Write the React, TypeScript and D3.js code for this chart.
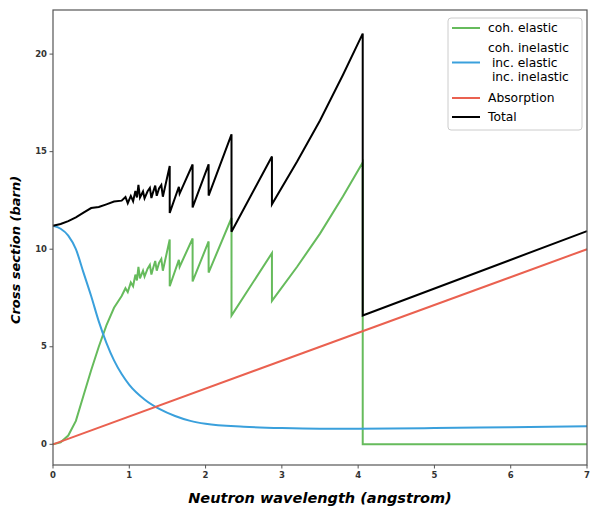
import React from 'react'
import * as d3 from 'd3'

const width = 593
const height = 510

// wavelength grid (angstrom) shared by coh. elastic and total
const wavelengths = [0, 0.1, 0.2, 0.3, 0.4, 0.5, 0.6, 0.7, 0.8, 0.9, 0.95, 0.98, 1.02, 1.05, 1.08, 1.1, 1.12, 1.14, 1.18, 1.2, 1.24, 1.27, 1.29, 1.31, 1.34, 1.36, 1.39, 1.42, 1.44, 1.53, 1.53, 1.65, 1.66, 1.83, 1.83, 2.04, 2.04, 2.34, 2.34, 2.87, 2.87, 3.2, 3.5, 3.8, 4.06, 4.06, 7]
const cohElastic = [0, 0.1, 0.45, 1.2, 2.5, 3.8, 5.0, 6.1, 7.0, 7.6, 8.0, 7.8, 8.3, 8.1, 8.7, 8.4, 9.1, 8.5, 8.9, 8.6, 9.0, 9.2, 8.7, 9.0, 9.4, 8.9, 9.3, 9.5, 8.9, 10.5, 8.1, 9.45, 9.1, 10.55, 8.35, 10.4, 8.8, 11.6, 6.6, 9.8, 7.35, 9.1, 10.8, 12.7, 14.45, 0, 0]
const total = [11.2, 11.29, 11.44, 11.63, 11.87, 12.11, 12.16, 12.3, 12.44, 12.49, 12.68, 12.36, 12.73, 12.46, 12.99, 12.65, 13.3, 12.65, 12.96, 12.61, 12.97, 13.14, 12.62, 12.9, 13.26, 12.74, 13.11, 13.29, 12.69, 14.26, 11.86, 13.2, 12.85, 14.34, 12.14, 14.35, 12.75, 15.89, 10.89, 14.75, 12.3, 14.49, 16.6, 18.93, 21.05, 6.6, 10.93]

// coh. inelastic + inc. elastic + inc. inelastic
const incWavelengths = [0, 0.1, 0.2, 0.3, 0.4, 0.5, 0.6, 0.7, 0.8, 0.9, 1.0, 1.2, 1.4, 1.6, 1.8, 2.0, 2.5, 3.0, 3.5, 4.0, 5.0, 6.0, 7.0]
const incoherent = [11.2, 11.05, 10.7, 10.0, 8.8, 7.6, 6.3, 5.2, 4.3, 3.6, 3.05, 2.3, 1.8, 1.45, 1.2, 1.05, 0.9, 0.83, 0.8, 0.8, 0.83, 0.88, 0.93]

const absWavelengths = [0, 7]
const absorption = [0, 10]

const xTicks = [0, 1, 2, 3, 4, 5, 6, 7]
const yTicks = [0, 5, 10, 15, 20]

const legendItems = [
  { lines: ['coh. elastic'], color: '#66bb5c' },
  { lines: ['coh. inelastic', ' inc. elastic', ' inc. inelastic'], color: '#3aa0dc' },
  { lines: ['Absorption'], color: '#ea6150' },
  { lines: ['Total'], color: '#000000' },
]

const left = 53
const right = 587
const top = 10
const bottom = 465

const x = d3.scaleLinear().domain([0, 7]).range([left, right])
const y = d3.scaleLinear().domain([-1.06, 22.26]).range([bottom, top])

const line = d3.line<[number, number]>()
  .x(d => x(d[0]))
  .y(d => y(d[1]))

const smoothLine = d3.line<[number, number]>()
  .x(d => x(d[0]))
  .y(d => y(d[1]))
  .curve(d3.curveMonotoneX)

const zip = (xs: number[], ys: number[]) => xs.map((v, i) => [v, ys[i]] as [number, number])

const series = [
  { d: line(zip(wavelengths, cohElastic)), color: legendItems[0].color },
  { d: smoothLine(zip(incWavelengths, incoherent)), color: legendItems[1].color },
  { d: line(zip(absWavelengths, absorption)), color: legendItems[2].color },
  { d: line(zip(wavelengths, total)), color: legendItems[3].color },
]

const font = '"DejaVu Sans", sans-serif'

// legend row centres, in px from the top of the figure
const legendLineY = [28, 62.5, 98, 117]
const rowH = 14.5

export default function App() {
  return (
    <svg width={width} height={height} style={{ position: 'absolute', left: 0, top: 0, background: '#fff' }}>
      <rect x={0} y={0} width={width} height={height} fill="#fff" />
      <g>
        {series.map((s, i) => (
          <path key={i} d={s.d || ''} fill="none" stroke={s.color} strokeWidth={2} />
        ))}
      </g>
      <rect x={left} y={top} width={right - left} height={bottom - top} fill="none" stroke="#555" strokeWidth={1.2} />
      {xTicks.map(t => (
        <g key={t} transform={`translate(${x(t)},${bottom})`}>
          <line y2={3.5} stroke="#555" strokeWidth={1} />
          <text y={13} textAnchor="middle" fontFamily={font} fontSize={8.5} fontWeight="bold" fill="#333">{t}</text>
        </g>
      ))}
      {yTicks.map(t => (
        <g key={t} transform={`translate(${left},${y(t)})`}>
          <line x2={-3.5} stroke="#555" strokeWidth={1} />
          <text x={-6} dy="0.32em" textAnchor="end" fontFamily={font} fontSize={8.5} fontWeight="bold" fill="#333">{t}</text>
        </g>
      ))}
      <text x={(left + right) / 2} y={503} textAnchor="middle" fontFamily={font} fontSize={14.5} fontWeight="bold" fontStyle="italic" fill="#000">
        Neutron wavelength (angstrom)
      </text>
      <text transform={`translate(20,250) rotate(-90)`} textAnchor="middle" fontFamily={font} fontSize={13} fontWeight="bold" fontStyle="italic" fill="#000">
        Cross section (barn)
      </text>
      <g>
        <rect x={448} y={18} width={134} height={112} rx={3} fill="#fff" stroke="#ccc" strokeWidth={1} />
        {legendItems.map((item, i) => {
          const cy = legendLineY[i]
          return (
            <g key={i}>
              <line x1={452} x2={480} y1={cy} y2={cy} stroke={item.color} strokeWidth={2} />
              {item.lines.map((l, j) => (
                <text key={j} x={488} y={cy + (j - (item.lines.length - 1) / 2) * rowH} dy="0.35em"
                  fontFamily={font} fontSize={12.3} fill="#000" style={{ whiteSpace: 'pre' }}>{l}</text>
              ))}
            </g>
          )
        })}
      </g>
    </svg>
  )
}
